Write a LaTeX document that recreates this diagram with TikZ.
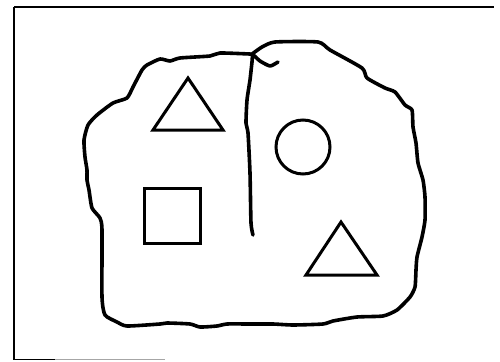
\documentclass[tikz,border=0pt]{standalone}
\begin{document}
\begin{tikzpicture}[x=1pt,y=-1pt,
  blob/.style={line width=3.6pt,line join=round,line cap=round},
  figline/.style={line width=3pt,line join=miter},
  frameline/.style={line width=2.6pt}]
\useasboundingbox (0,0) rectangle (500,361);
% frame (scanned: top and left dark, bottom faint)
\draw[frameline] (14,7) -- (494,7);
\draw[frameline] (14,7) -- (14,360);
\draw[line width=1.6pt] (14,359.5) -- (55,359.5);
\draw[line width=1.2pt,black!35] (55,359.5) -- (165,359.5);
% blob outline
\draw[blob] plot[smooth cycle,tension=0.35] coordinates {
 (250,54) (220,53) (210,56) (180,58) (170,61) (160,59) (147,65) (142,70)
 (133,87) (127,98) (113,103) (97,115) (88,125) (84,140) (85,157) (87,170)
 (87,180) (89,190) (92,208) (100,218) (102,230) (102,297) (105,315)
 (117,322) (127,326) (160,324) (167,323) (190,324) (200,327) (217,326)
 (227,324) (250,324) (273,324) (293,325) (323,324) (333,321) (357,317)
 (383,316) (397,310) (410,297) (415,287) (416,270) (417,257) (422,237)
 (425,220) (425,197) (423,180) (418,163) (416,143) (413,127) (412,110)
 (405,105) (395,92) (385,88) (367,78) (362,68) (330,50) (318,42)
 (275,42) (262,47) (252,54)};
% inner dividing stroke with hook
\draw[blob] plot[smooth,tension=0.35] coordinates {
 (278,62) (270,66) (260,61) (253,55) (252,62) (250,80) (247,100)
 (246,123) (248,133) (250,173) (251,223) (253,235)};
% shapes
\draw[figline] (188,78) -- (223,130) -- (153,130) -- cycle;
\draw[figline] (303,147) circle[radius=27];
\draw[figline] (144,188) rectangle (200,243);
\draw[figline] (341,222) -- (377,275) -- (306,275) -- cycle;
\end{tikzpicture}
\end{document}
